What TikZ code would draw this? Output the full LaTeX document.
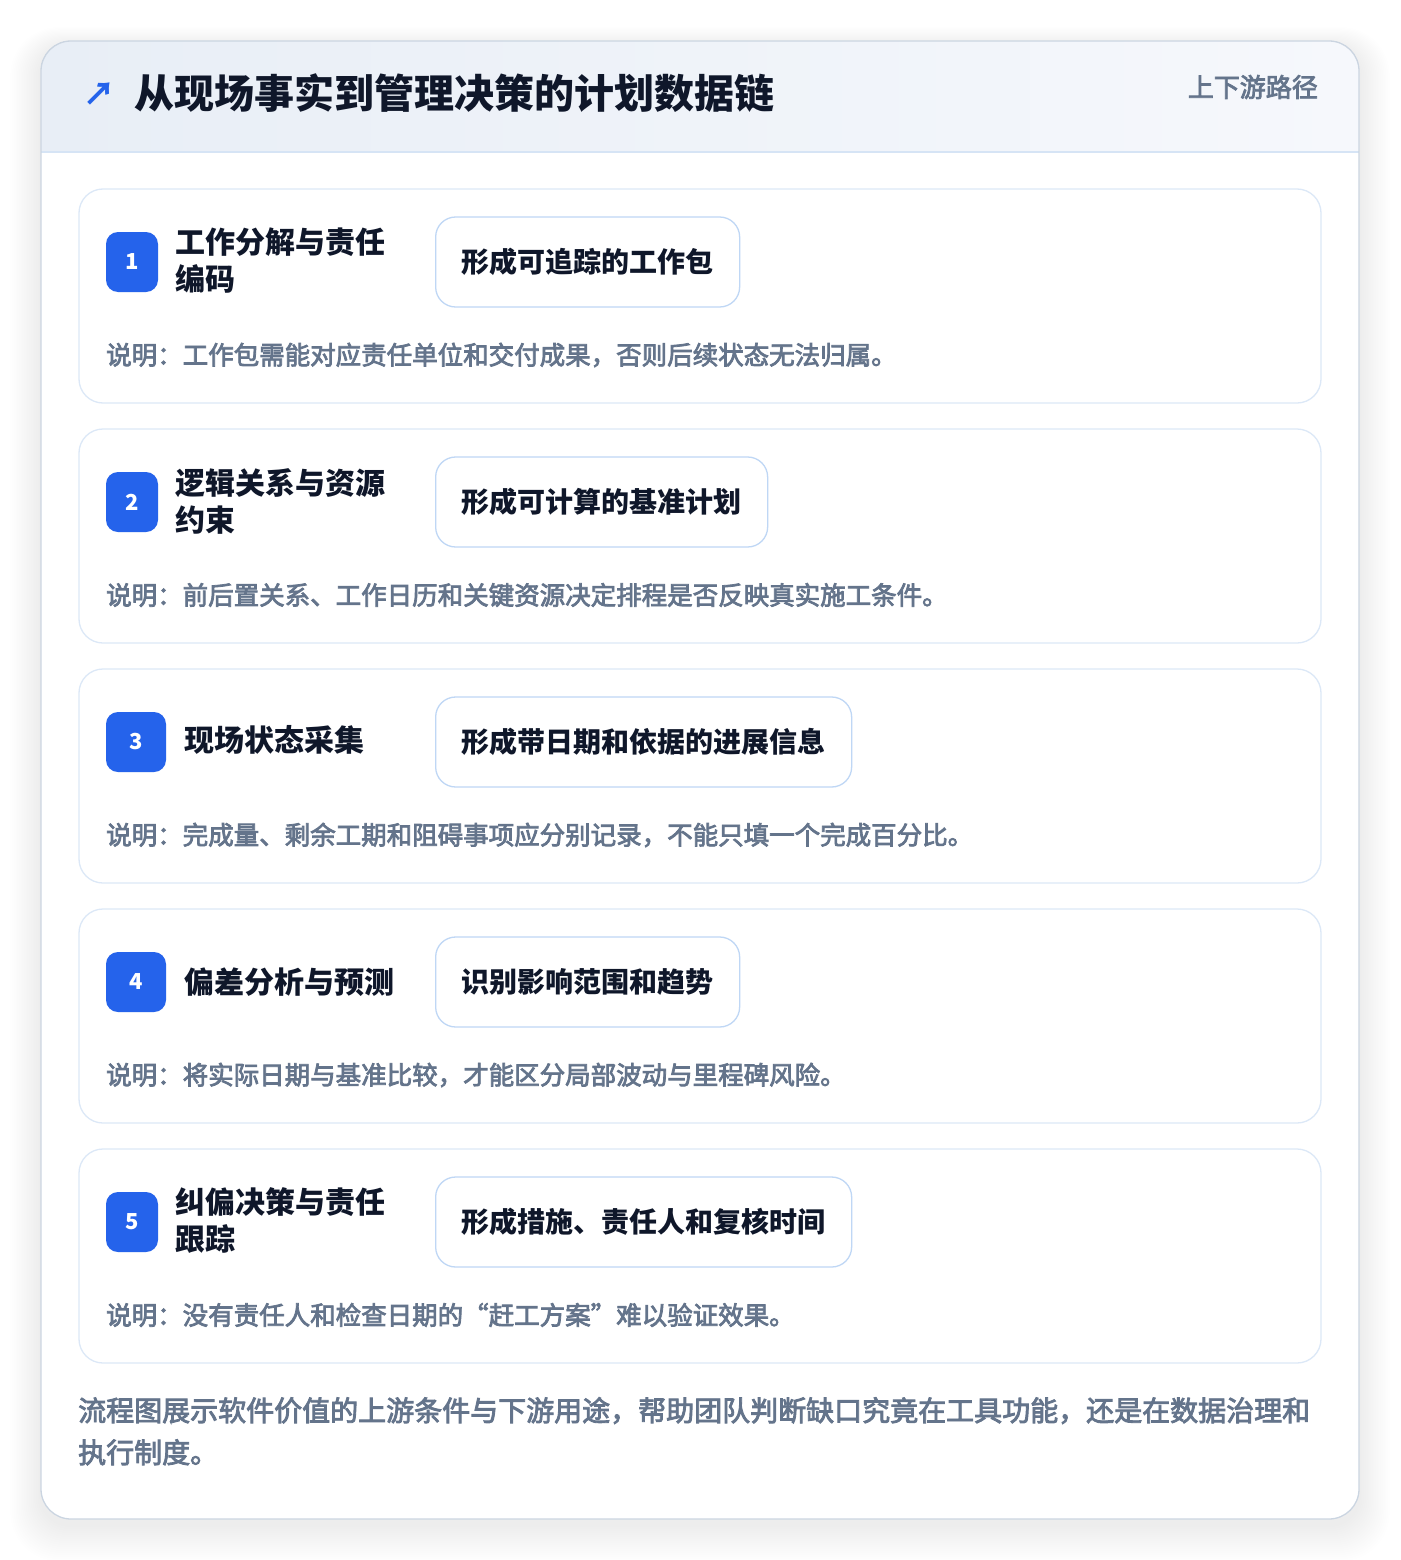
\documentclass[tikz,border=0pt]{standalone}
\usepackage{fontspec}
\setmainfont{Noto Sans CJK SC}
\newfontfamily\notefont{Noto Sans CJK SC}[FakeBold=3]
\usepackage{xcolor}
\usepackage{tikz}
\usetikzlibrary{positioning}
\definecolor{ink}{HTML}{0F172A}
\definecolor{muted}{HTML}{64748B}
\definecolor{accent}{HTML}{2563EB}
\definecolor{edge}{HTML}{CBD5E1}
\definecolor{cardedge}{HTML}{DCE8F7}
\definecolor{boxedge}{HTML}{BFD7F5}
\definecolor{headl}{HTML}{E8EEF6}
\definecolor{headr}{HTML}{F6F8FC}
\definecolor{headline}{HTML}{D6E4F5}
\tikzset{
  outer/.style={draw=edge, line width=1.3pt, rounded corners=30pt},
  card/.style={draw=cardedge, line width=1.3pt, rounded corners=24pt, fill=white},
  badge/.style={fill=accent, rounded corners=12pt, minimum height=60pt, inner sep=0pt, text=white, font=\fontsize{22}{26}\selectfont\bfseries},
  steptitle/.style={anchor=west, align=left, inner sep=0pt, text=ink, font=\fontsize{30}{37}\selectfont\bfseries},
  result/.style={draw=boxedge, line width=1.3pt, rounded corners=20pt, fill=white, minimum height=90pt, inner xsep=26pt, anchor=west, text=ink, font=\fontsize{28}{34}\selectfont\bfseries},
  note/.style={anchor=west, inner sep=0pt, text=muted, font=\fontsize{25.5}{30}\selectfont\notefont},
  foot/.style={anchor=north west, align=left, inner sep=0pt, text=muted, font=\fontsize{28}{42}\selectfont\notefont},
}

\begin{document}
\begin{tikzpicture}[x=1pt, y=-1pt]
  \useasboundingbox (0,0) rectangle (1400,1560);

  % soft shadow round the panel
  \foreach \i in {1,...,18}
    \fill[black, opacity=0.005, rounded corners=30pt+\i pt]
      (41-\i*1.7, 47-\i*1.1) rectangle (1359+\i*1.7, 1525+\i*2);
  \fill[white, rounded corners=30pt] (41,41) rectangle (1359,1519);

  % header band
  \begin{scope}
    \clip[rounded corners=30pt] (41,41) rectangle (1359,1519);
    \fill[left color=headl, right color=headr] (41,41) rectangle (1359,152);
  \end{scope}
  \draw[headline, line width=1.3pt] (41,152) -- (1359,152);
  \draw[outer] (41,41) rectangle (1359,1519);

  \node[text=accent, font=\fontsize{32}{36}\selectfont\bfseries, inner sep=0pt] (arrow) at (99,94) {↗};
  \node[anchor=west, inner sep=0pt, text=ink, font=\fontsize{40}{48}\selectfont\bfseries] (title) at (134,93) {从现场事实到管理决策的计划数据链};
  \node[anchor=east, inner sep=0pt, text=muted, font=\fontsize{26}{30}\selectfont\notefont] (tag) at (1318,87) {上下游路径};

  % card 1
  \draw[card] (79,189) rectangle (1321,403);
  \node[badge, minimum width=52pt] (b1) at (132,262) {1};
  \node[steptitle] (t1) at (175,261) {工作分解与责任\\编码};
  \node[result] (r1) at (435,262) {形成可追踪的工作包};
  \node[note] (n1) at (106,355) {说明：工作包需能对应责任单位和交付成果，否则后续状态无法归属。};

  % card 2
  \draw[card] (79,429) rectangle (1321,643);
  \node[badge, minimum width=52pt] (b2) at (132,502) {2};
  \node[steptitle] (t2) at (175,501) {逻辑关系与资源\\约束};
  \node[result] (r2) at (435,502) {形成可计算的基准计划};
  \node[note] (n2) at (106,595) {说明：前后置关系、工作日历和关键资源决定排程是否反映真实施工条件。};

  % card 3
  \draw[card] (79,669) rectangle (1321,883);
  \node[badge, minimum width=60pt] (b3) at (136,742) {3};
  \node[steptitle] (t3) at (184,740) {现场状态采集};
  \node[result] (r3) at (435,742) {形成带日期和依据的进展信息};
  \node[note] (n3) at (106,835) {说明：完成量、剩余工期和阻碍事项应分别记录，不能只填一个完成百分比。};

  % card 4
  \draw[card] (79,909) rectangle (1321,1123);
  \node[badge, minimum width=60pt] (b4) at (136,982) {4};
  \node[steptitle] (t4) at (184,982) {偏差分析与预测};
  \node[result] (r4) at (435,982) {识别影响范围和趋势};
  \node[note] (n4) at (106,1075) {说明：将实际日期与基准比较，才能区分局部波动与里程碑风险。};

  % card 5
  \draw[card] (79,1149) rectangle (1321,1363);
  \node[badge, minimum width=52pt] (b5) at (132,1222) {5};
  \node[steptitle] (t5) at (175,1221) {纠偏决策与责任\\跟踪};
  \node[result] (r5) at (435,1222) {形成措施、责任人和复核时间};
  \node[note] (n5) at (106,1315) {说明：没有责任人和检查日期的“赶工方案”难以验证效果。};

  \node[foot] (summary) at (78,1397) {流程图展示软件价值的上游条件与下游用途，帮助团队判断缺口究竟在工具功能，还是在数据治理和\\执行制度。};
\end{tikzpicture}
\end{document}
